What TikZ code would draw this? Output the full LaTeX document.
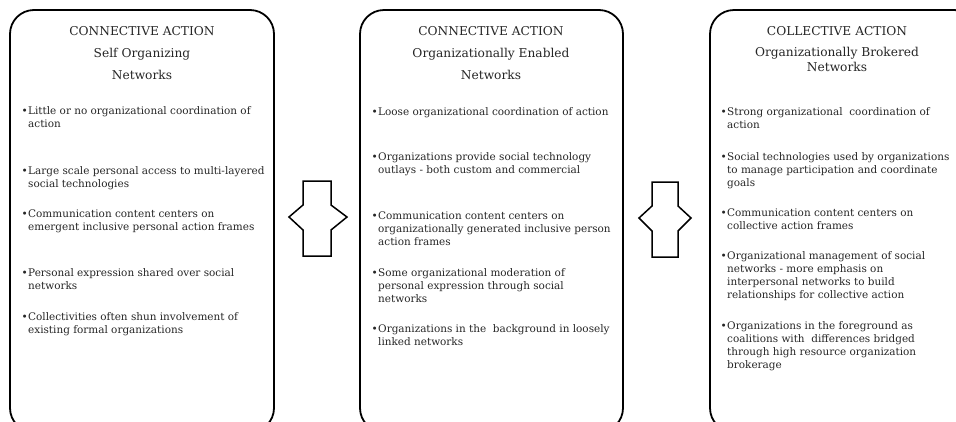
\documentclass[tikz,border=0pt]{standalone}
\usepackage{fontspec}
\setmainfont{DejaVu Serif}
\definecolor{txt}{HTML}{262626}
\tikzset{
  panel/.style={draw=black, line width=1.8pt, rounded corners=24pt},
  ttl/.style={font=\fontsize{12.2}{15}\selectfont, text=txt, inner sep=0, anchor=base},
  itm/.style={font=\fontsize{10.45}{13.3}\selectfont, text=txt, align=left, inner sep=0, anchor=base west},
  bul/.style={font=\fontsize{10.45}{13.3}\selectfont, text=txt, inner sep=0, anchor=base east},
  dblarrow/.style={draw=black, line width=1.5pt, fill=white, line join=miter}
}
\begin{document}
\begin{tikzpicture}[x=1pt,y=-1pt]
\useasboundingbox (0,0) rectangle (956,421);
\fill[white] (0,0) rectangle (956,421);
\clip (0,0) rectangle (956,421);

% panels
\draw[panel] (10,10) rectangle (274,432);
\draw[panel] (360,10) rectangle (623,432);
\draw[panel] (710,10) rectangle (978,432);

% double arrows
\draw[dblarrow] (303,181) -- (331,181) -- (331,205) -- (347,217) -- (331,230) -- (331,256)
  -- (303,256) -- (303,230) -- (289,217) -- (303,205) -- cycle;
\draw[dblarrow] (652,182) -- (678,182) -- (678,206) -- (691,218) -- (678,231) -- (678,257)
  -- (652,257) -- (652,231) -- (639,218) -- (652,206) -- cycle;

% panel 1 (item nodes are placed at the baseline of their last line)
\node[ttl] (t1a) at (142,35) {CONNECTIVE ACTION};
\node[ttl] (t1b) at (142,57) {Self Organizing};
\node[ttl] (t1c) at (142,79) {Networks};
\node[bul] (d1a) at (28,114) {\textbullet};
\node[itm] (i1a) at (28,127.3) {Little or no organizational coordination of\\action};
\node[bul] (d1b) at (28,174) {\textbullet};
\node[itm] (i1b) at (28,187.3) {Large scale personal access to multi-layered\\social technologies};
\node[bul] (d1c) at (28,217) {\textbullet};
\node[itm] (i1c) at (28,230.3) {Communication content centers on\\emergent inclusive personal action frames};
\node[bul] (d1d) at (28,276) {\textbullet};
\node[itm] (i1d) at (28,289.3) {Personal expression shared over social\\networks};
\node[bul] (d1e) at (28,320) {\textbullet};
\node[itm] (i1e) at (28,333.3) {Collectivities often shun involvement of\\existing formal organizations};

% panel 2
\node[ttl] (t2a) at (491,35) {CONNECTIVE ACTION};
\node[ttl] (t2b) at (491,57) {Organizationally Enabled};
\node[ttl] (t2c) at (491,79) {Networks};
\node[bul] (d2a) at (378,115) {\textbullet};
\node[itm] (i2a) at (378,115) {Loose organizational coordination of action};
\node[bul] (d2b) at (378,160) {\textbullet};
\node[itm] (i2b) at (378,173.3) {Organizations provide social technology\\outlays - both custom and commercial};
\node[bul] (d2c) at (378,219) {\textbullet};
\node[itm] (i2c) at (378,245.6) {Communication content centers on\\organizationally generated inclusive person\\action frames};
\node[bul] (d2d) at (378,276) {\textbullet};
\node[itm] (i2d) at (378,302.6) {Some organizational moderation of\\personal expression through social\\networks};
\node[bul] (d2e) at (378,332) {\textbullet};
\node[itm] (i2e) at (378,345.3) {Organizations in the\ \ background in loosely\\linked networks};

% panel 3
\node[ttl] (t3a) at (837,35) {COLLECTIVE ACTION};
\node[ttl] (t3b) at (837,56) {Organizationally Brokered};
\node[ttl] (t3c) at (837,71) {Networks};
\node[bul] (d3a) at (727,115) {\textbullet};
\node[itm] (i3a) at (727,128.3) {Strong organizational\ \ coordination of\\action};
\node[bul] (d3b) at (727,160) {\textbullet};
\node[itm] (i3b) at (727,186.6) {Social technologies used by organizations\\to manage participation and coordinate\\goals};
\node[bul] (d3c) at (727,216) {\textbullet};
\node[itm] (i3c) at (727,229.3) {Communication content centers on\\collective action frames};
\node[bul] (d3d) at (727,259) {\textbullet};
\node[itm] (i3d) at (727,298.9) {Organizational management of social\\networks - more emphasis on\\interpersonal networks to build\\relationships for collective action};
\node[bul] (d3e) at (727,329) {\textbullet};
\node[itm] (i3e) at (727,368.9) {Organizations in the foreground as\\coalitions with\ \ differences bridged\\through high resource organization\\brokerage};
\end{tikzpicture}
\end{document}
